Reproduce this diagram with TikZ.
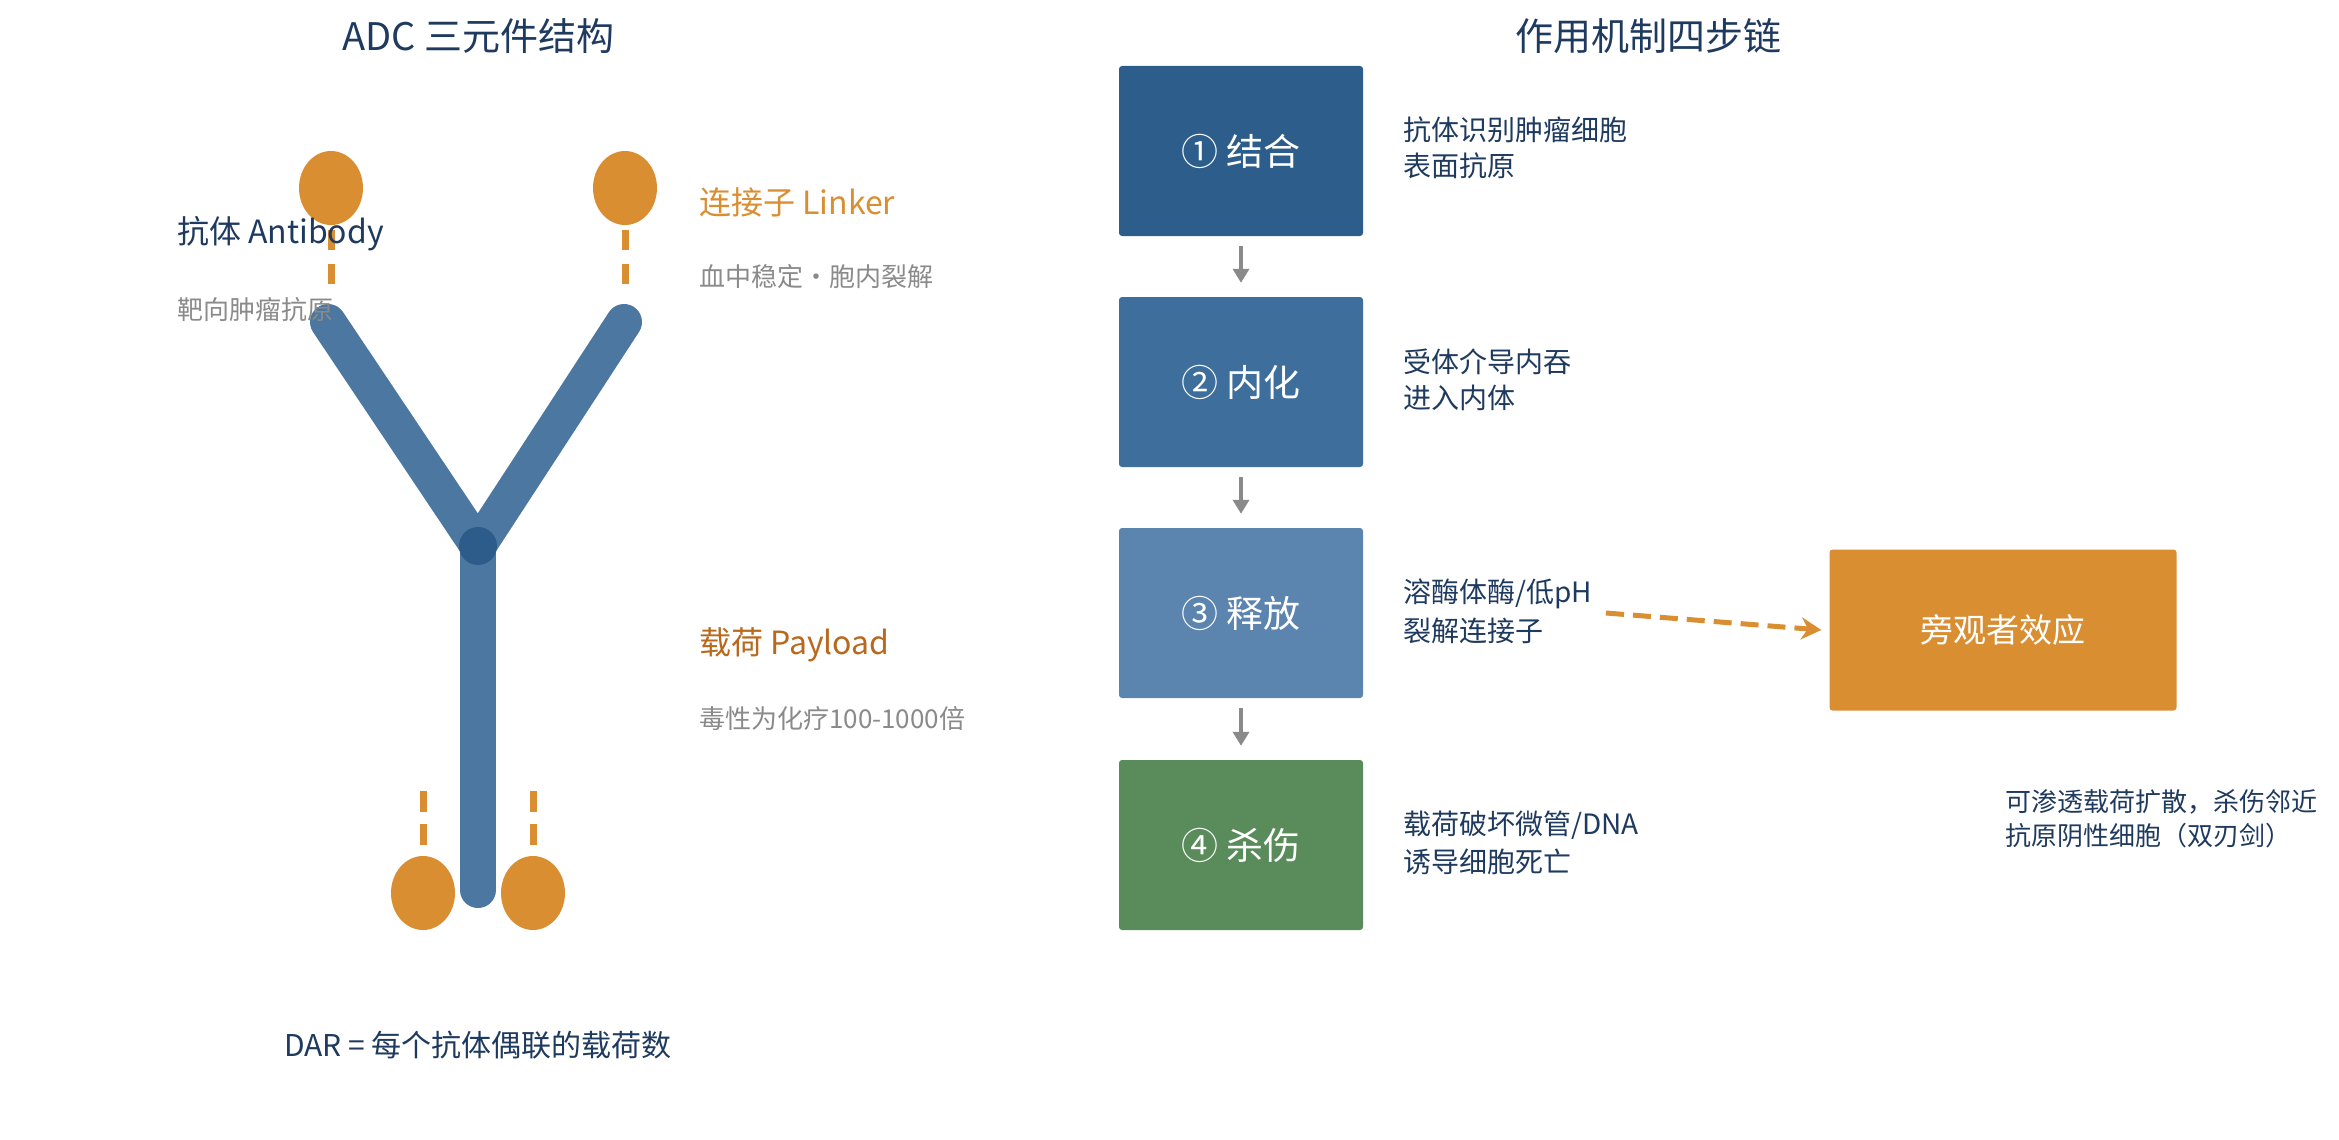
\documentclass[tikz,border=0pt]{standalone}
\usepackage{fontspec}
\setmainfont{Noto Sans CJK SC}
\usetikzlibrary{arrows.meta}
\definecolor{navy}{HTML}{1F3A5F}
\definecolor{ab}{HTML}{4B77A0}
\definecolor{abd}{HTML}{2D5C8A}
\definecolor{og}{HTML}{D98E32}
\definecolor{ogd}{HTML}{B8691E}
\definecolor{gr}{HTML}{8A8A8A}
\definecolor{b1}{HTML}{2D5E8B}
\definecolor{b2}{HTML}{3D6E9C}
\definecolor{b3}{HTML}{5B84AF}
\definecolor{b4}{HTML}{5A8B5A}
\newcommand{\fs}[1]{\fontsize{#1}{#1}\selectfont}
\tikzset{
 stepbox/.style={rounded corners=3pt, minimum width=244pt, minimum height=170pt, text=white, font=\fs{37}},
 desc/.style={anchor=west, align=left, text=navy, font=\fs{28}, inner sep=0pt},
 pay/.style={fill=og, draw=none},
 link/.style={og, line width=7pt},
 flow/.style={gr, line width=4pt, -{Triangle[length=14pt,width=16pt]}},
}
\begin{document}
\begin{tikzpicture}[x=1pt,y=-1pt]
\useasboundingbox (0,0) rectangle (2339,1140);
% left title
\node[text=navy, font=\fs{38}] (t1) at (478,36) {ADC 三元件结构};
% antibody
\coordinate (j) at (478,546);
\draw[ab, line width=36pt, line cap=round] (328,322) -- (j) -- (624,322);
\draw[ab, line width=36pt, line cap=round] (j) -- (478,890);
\fill[abd] (j) circle (19pt);
% payloads
\fill[pay] (331,188) ellipse (32pt and 37pt);
\fill[pay] (625,188) ellipse (32pt and 37pt);
\fill[pay] (423,893) ellipse (32pt and 37pt);
\fill[pay] (533,893) ellipse (32pt and 37pt);
\draw[link, dash pattern=on 20pt off 14pt] (331,230) -- (331,295);
\draw[link, dash pattern=on 20pt off 14pt] (625,230) -- (625,295);
\draw[link, dash pattern=on 21pt off 12pt] (423,791) -- (423,860);
\draw[link, dash pattern=on 21pt off 12pt] (533,791) -- (533,860);
% labels
\node[anchor=west, text=navy, font=\fs{32}, inner sep=0pt] (l1) at (177,234) {抗体 Antibody};
\node[anchor=west, text=gr, font=\fs{26}, inner sep=0pt] (l2) at (177,310) {靶向肿瘤抗原};
\node[anchor=west, text=og, font=\fs{32}, inner sep=0pt] (l3) at (699,202) {连接子 Linker};
\node[anchor=west, text=gr, font=\fs{26}, inner sep=0pt] (l4) at (699,277) {血中稳定・胞内裂解};
\node[anchor=west, text=ogd, font=\fs{32}, inner sep=0pt] (l5) at (699,645) {载荷 Payload};
\node[anchor=west, text=gr, font=\fs{26}, inner sep=0pt] (l6) at (699,719) {毒性为化疗100-1000倍};
\node[text=navy, font=\fs{30}] (dar) at (478,1045) {DAR = 每个抗体偶联的载荷数};
% right title
\node[text=navy, font=\fs{38}] (t2) at (1648,36) {作用机制四步链};
% steps
\node[stepbox, fill=b1] (s1) at (1241,151) {① 结合};
\node[stepbox, fill=b2] (s2) at (1241,382) {② 内化};
\node[stepbox, fill=b3] (s3) at (1241,613) {③ 释放};
\node[stepbox, fill=b4] (s4) at (1241,845) {④ 杀伤};
\draw[flow] ([yshift=-10pt]s1.south) -- ([yshift=14pt]s2.north);
\draw[flow] ([yshift=-10pt]s2.south) -- ([yshift=14pt]s3.north);
\draw[flow] ([yshift=-10pt]s3.south) -- ([yshift=14pt]s4.north);
\node[desc] (d1) at (1403,148) {抗体识别肿瘤细胞\\[8pt]表面抗原};
\node[desc] (d2) at (1403,380) {受体介导内吞\\[8pt]进入内体};
\node[desc] (d3) at (1403,611) {溶酶体酶/低pH\\[8pt]裂解连接子};
\node[desc] (d4) at (1403,843) {载荷破坏微管/DNA\\[8pt]诱导细胞死亡};
\node[rounded corners=3pt, fill=og, minimum width=347pt, minimum height=161pt, text=white, font=\fs{33}] (by) at (2003,630) {旁观者效应};
\coordinate (bs) at (1606,613);
\draw[og, line width=5pt, dash pattern=on 18pt off 9pt, -{Stealth[length=20pt,width=22pt]}] (bs) -- ([xshift=-8pt]by.west);
\node[anchor=west, align=left, text=navy, font=\fs{26}, inner sep=0pt] (note) at (2005,819) {可渗透载荷扩散，杀伤邻近\\[8pt]抗原阴性细胞（双刃剑）};
\end{tikzpicture}
\end{document}
